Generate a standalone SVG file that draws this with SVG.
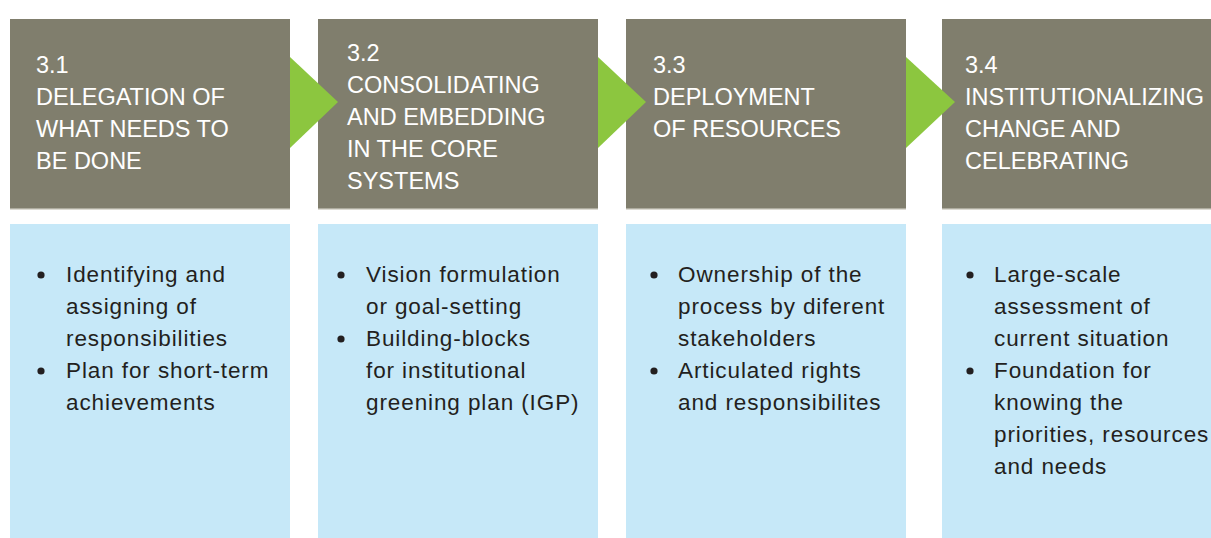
<svg xmlns="http://www.w3.org/2000/svg" width="1211" height="538" viewBox="0 0 1211 538">
<style>
.hdr{fill:#807e6d}
.edge{fill:#dcdad2}
.body{fill:#c6e8f8}
.arrow{fill:#8cc63f}
.ht{font-family:"Liberation Sans",Arial,sans-serif;font-size:23.5px;fill:#ffffff}
.bt{font-family:"Liberation Sans",Arial,sans-serif;font-size:22.5px;letter-spacing:0.9px;fill:#231f20}
.dot{fill:#231f20}
</style>
<rect width="1211" height="538" fill="#ffffff"/>
<g id="step1">
<rect class="hdr" x="10" y="19" width="280" height="190"/>
<rect class="edge" x="10" y="208.5" width="280" height="1.5"/>
<rect class="body" x="10" y="224" width="280" height="314"/>
<text class="ht" x="36"><tspan x="36" y="73">3.1</tspan><tspan x="36" y="105">DELEGATION OF</tspan><tspan x="36" y="137">WHAT NEEDS TO</tspan><tspan x="36" y="169">BE DONE</tspan></text>
<circle class="dot" cx="41" cy="275" r="3.6"/>
<circle class="dot" cx="41" cy="371" r="3.6"/>
<text class="bt"><tspan x="66" y="282">Identifying and</tspan><tspan x="66" y="314">assigning of</tspan><tspan x="66" y="346">responsibilities</tspan><tspan x="66" y="378">Plan for short-term</tspan><tspan x="66" y="410">achievements</tspan></text>
</g>
<g id="step2">
<rect class="hdr" x="318" y="19" width="280" height="190"/>
<rect class="edge" x="318" y="208.5" width="280" height="1.5"/>
<rect class="body" x="318" y="224" width="280" height="314"/>
<text class="ht"><tspan x="347" y="61">3.2</tspan><tspan x="347" y="93">CONSOLIDATING</tspan><tspan x="347" y="125">AND EMBEDDING</tspan><tspan x="347" y="157">IN THE CORE</tspan><tspan x="347" y="189">SYSTEMS</tspan></text>
<circle class="dot" cx="341" cy="275" r="3.6"/>
<circle class="dot" cx="341" cy="339" r="3.6"/>
<text class="bt"><tspan x="366" y="282">Vision formulation</tspan><tspan x="366" y="314">or goal-setting</tspan><tspan x="366" y="346">Building-blocks</tspan><tspan x="366" y="378">for institutional</tspan><tspan x="366" y="410">greening plan (IGP)</tspan></text>
</g>
<g id="step3">
<rect class="hdr" x="626" y="19" width="280" height="190"/>
<rect class="edge" x="626" y="208.5" width="280" height="1.5"/>
<rect class="body" x="626" y="224" width="280" height="314"/>
<text class="ht"><tspan x="653" y="73">3.3</tspan><tspan x="653" y="105">DEPLOYMENT</tspan><tspan x="653" y="137">OF RESOURCES</tspan></text>
<circle class="dot" cx="654" cy="275" r="3.6"/>
<circle class="dot" cx="654" cy="371" r="3.6"/>
<text class="bt"><tspan x="678" y="282">Ownership of the</tspan><tspan x="678" y="314">process by diferent</tspan><tspan x="678" y="346">stakeholders</tspan><tspan x="678" y="378">Articulated rights</tspan><tspan x="678" y="410">and responsibilites</tspan></text>
</g>
<g id="step4">
<rect class="hdr" x="942" y="19" width="269" height="190"/>
<rect class="edge" x="942" y="208.5" width="269" height="1.5"/>
<rect class="body" x="942" y="224" width="269" height="314"/>
<text class="ht"><tspan x="965" y="73">3.4</tspan><tspan x="965" y="105">INSTITUTIONALIZING</tspan><tspan x="965" y="137">CHANGE AND</tspan><tspan x="965" y="169">CELEBRATING</tspan></text>
<circle class="dot" cx="970" cy="275" r="3.6"/>
<circle class="dot" cx="970" cy="371" r="3.6"/>
<text class="bt"><tspan x="994" y="282">Large-scale</tspan><tspan x="994" y="314">assessment of</tspan><tspan x="994" y="346">current situation</tspan><tspan x="994" y="378">Foundation for</tspan><tspan x="994" y="410">knowing the</tspan><tspan x="994" y="442">priorities, resources</tspan><tspan x="994" y="474">and needs</tspan></text>
</g>
<g id="connectors">
<polygon class="arrow" points="290,57 338,102 290,148"/>
<polygon class="arrow" points="598,57 646,102 598,148"/>
<polygon class="arrow" points="906,57 955,102 906,148"/>
</g>
</svg>
